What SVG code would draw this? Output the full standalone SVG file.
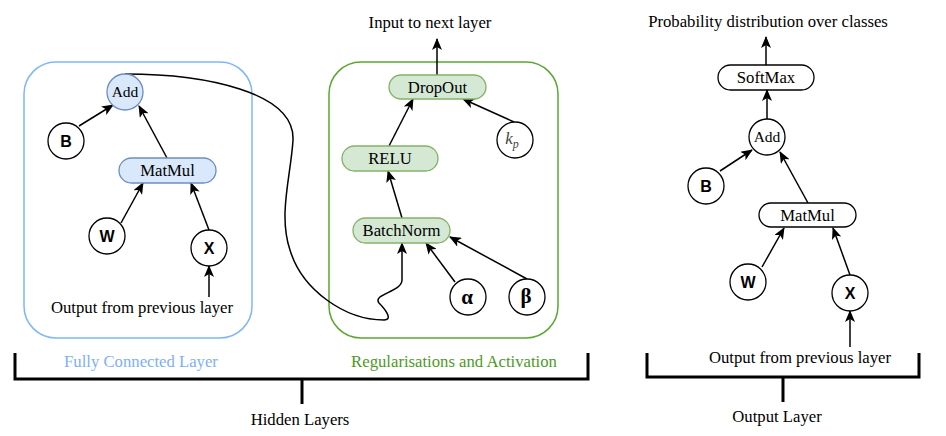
<svg xmlns="http://www.w3.org/2000/svg" width="946" height="436" viewBox="0 0 946 436">
<style>
.t{font-family:"Liberation Serif","Times New Roman","DejaVu Serif",serif;font-size:16.7px;fill:#000;text-anchor:middle}
.v{font-family:"Liberation Sans",Arial,sans-serif;font-size:16px;font-weight:bold;fill:#000;text-anchor:middle}
.g{font-family:"Liberation Serif","Times New Roman","DejaVu Serif",serif;font-size:21px;font-weight:bold;fill:#000;text-anchor:middle}
.c{fill:#fff;stroke:#000;stroke-width:1.3}
.blue{fill:#dae8fc;stroke:#6c8ebf;stroke-width:1.3}
.green{fill:#d5e8d4;stroke:#82b366;stroke-width:1.3}
.e{fill:none;stroke:#000;stroke-width:1.5}
.br{fill:none;stroke:#000;stroke-width:3}
</style>
<defs>
<marker id="a" viewBox="0 0 12 10" refX="11" refY="5" markerWidth="12" markerHeight="10" markerUnits="userSpaceOnUse" orient="auto">
<path d="M0,0 L12,5 L0,10 L3,5 z" fill="#000"/>
</marker>
</defs>
<rect width="946" height="436" fill="#fff"/>

<g id="fc-container">
<rect x="24" y="62" width="228" height="276" rx="32" fill="none" stroke="#7eb6f8" stroke-width="1.5"/>
<text class="t" x="141" y="367" style="fill:#7eb0f4">Fully Connected Layer</text>
</g>
<g id="reg-container">
<rect x="329" y="62" width="229" height="276" rx="32" fill="none" stroke="#5aa832" stroke-width="1.5"/>
<text class="t" x="454" y="367" style="fill:#4d9a1f">Regularisations and Activation</text>
</g>

<g id="hidden-bracket">
<path class="br" d="M15,353 V379 H588 V353"/>
<path class="br" d="M302,379 V404"/>
<text class="t" x="300" y="425">Hidden Layers</text>
</g>
<g id="output-bracket">
<path class="br" d="M647,353 V377 H919 V353"/>
<path class="br" d="M783,377 V402"/>
<text class="t" x="777" y="422">Output Layer</text>
</g>

<g id="connectors">
<path class="e" marker-end="url(#a)" d="M79,126 L113,105"/>
<path class="e" marker-end="url(#a)" d="M167,158 L139,106"/>
<path class="e" marker-end="url(#a)" d="M121,223 L143,183"/>
<path class="e" marker-end="url(#a)" d="M209,230 L191,183"/>
<path class="e" marker-end="url(#a)" d="M209,297 L209,266"/>
<path class="e" marker-end="url(#a)" d="M125,74 C205,74 295,92 293,140 C291,175 278,215 290,250 C302,290 345,320 384,320 C394,320 384,308 379,303 C372,294 402,292 402,280 L402,243"/>
<path class="e" marker-end="url(#a)" d="M402,218 L388,171"/>
<path class="e" marker-end="url(#a)" d="M389,146 L413,99"/>
<path class="e" marker-end="url(#a)" d="M514,122 L463,99"/>
<path class="e" marker-end="url(#a)" d="M455,282 L426,243"/>
<path class="e" marker-end="url(#a)" d="M527,279 L450,237"/>
<path class="e" marker-end="url(#a)" d="M437,75 L437,39"/>
<path class="e" marker-end="url(#a)" d="M766,65 L766,37"/>
<path class="e" marker-end="url(#a)" d="M767,119 L767,90"/>
<path class="e" marker-end="url(#a)" d="M720,171 L752,150"/>
<path class="e" marker-end="url(#a)" d="M808,203 L780,152"/>
<path class="e" marker-end="url(#a)" d="M762,267 L784,228"/>
<path class="e" marker-end="url(#a)" d="M850,275 L833,228"/>
<path class="e" marker-end="url(#a)" d="M850,347 L850,311"/>
</g>

<g id="fc-add"><circle class="blue" cx="125" cy="92" r="18"/><text class="t" x="125" y="97" style="font-size:15.5px">Add</text></g>
<g id="fc-b"><circle class="c" cx="66" cy="141" r="18"/><text class="v" x="66" y="147">B</text></g>
<g id="fc-matmul"><rect class="blue" x="119" y="158" width="97" height="25" rx="12.5"/><text class="t" x="167.5" y="176">MatMul</text></g>
<g id="fc-w"><circle class="c" cx="107" cy="236" r="18"/><text class="v" x="107" y="242">W</text></g>
<g id="fc-x"><circle class="c" cx="209" cy="248" r="18"/><text class="v" x="209" y="254">X</text></g>
<g id="fc-input"><text class="t" x="142" y="313">Output from previous layer</text></g>

<g id="dropout"><rect class="green" x="389" y="75" width="97" height="24" rx="12"/><text class="t" x="437.5" y="92.5">DropOut</text></g>
<g id="relu"><rect class="green" x="342" y="146" width="96" height="25" rx="12.5"/><text class="t" x="390" y="164">RELU</text></g>
<g id="batchnorm"><rect class="green" x="353" y="218" width="97" height="25" rx="12.5"/><text class="t" x="401.5" y="236">BatchNorm</text></g>
<g id="kp"><circle class="c" cx="515" cy="140" r="18"/><text x="512" y="144" style="font-family:'Liberation Serif',serif;font-style:italic;font-size:17px;fill:#444;text-anchor:middle">k<tspan dy="4" style="font-size:12px">p</tspan></text></g>
<g id="alpha"><circle class="c" cx="468" cy="297" r="18"/><text class="g" x="467" y="304">α</text></g>
<g id="beta"><circle class="c" cx="527" cy="297" r="18"/><text class="g" x="526" y="303">β</text></g>
<g id="next-layer"><text class="t" x="430" y="28">Input to next layer</text></g>

<g id="out-prob"><text class="t" x="768" y="27">Probability distribution over classes</text></g>
<g id="out-softmax"><rect class="c" x="718" y="65" width="96" height="25" rx="12.5"/><text class="t" x="766" y="83">SoftMax</text></g>
<g id="out-add"><circle class="c" cx="767" cy="137" r="18"/><text class="t" x="767" y="142" style="font-size:15.5px">Add</text></g>
<g id="out-b"><circle class="c" cx="706" cy="186" r="18"/><text class="v" x="706" y="192">B</text></g>
<g id="out-matmul"><rect class="c" x="759" y="203" width="97" height="24" rx="12"/><text class="t" x="807.5" y="220.5">MatMul</text></g>
<g id="out-w"><circle class="c" cx="748" cy="282" r="18"/><text class="v" x="748" y="288">W</text></g>
<g id="out-x"><circle class="c" cx="850" cy="293" r="18"/><text class="v" x="850" y="299">X</text></g>
<g id="out-input"><text class="t" x="800" y="363">Output from previous layer</text></g>
</svg>
